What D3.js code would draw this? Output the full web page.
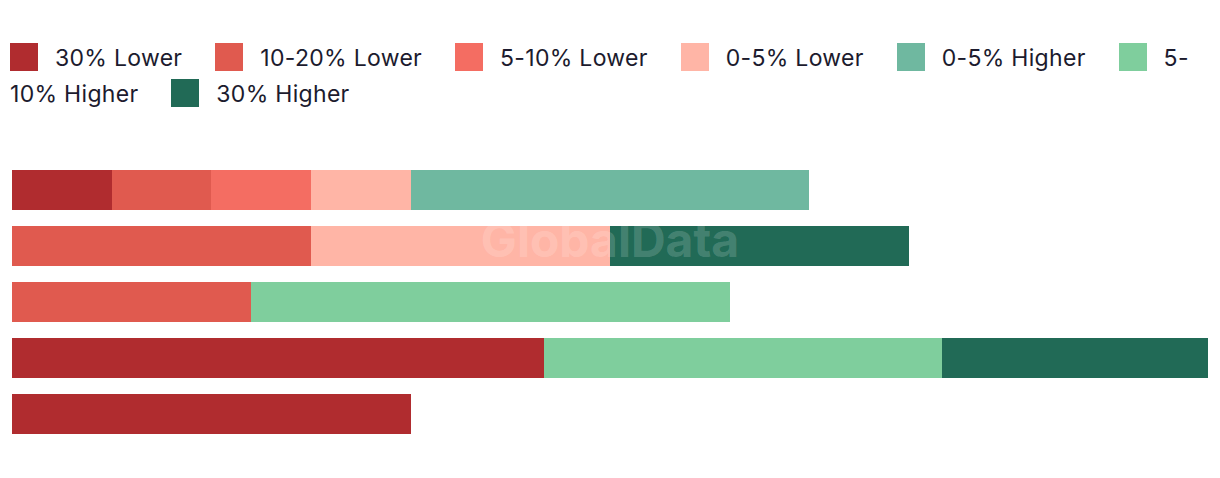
<!DOCTYPE html>
<html><head><meta charset="utf-8">
<script src="https://cdn.jsdelivr.net/npm/d3@7"></script>
<style>
html,body{margin:0;padding:0;background:#fff;}
body{width:1220px;height:478px;position:relative;overflow:hidden;font-family:Inter,"Noto Sans",sans-serif;}
#legend{position:absolute;left:10px;top:40px;width:1192px;font-size:23px;letter-spacing:0.3px;line-height:36px;color:#1c1b2e;}
#legend .sw{display:inline-block;width:28px;height:28px;vertical-align:-5px;margin-right:17px;}
#legend .lab.last{margin-right:33px;}
svg{position:absolute;left:0;top:0;}
</style></head><body>
<div id="legend"></div>
<svg id="chart" width="1220" height="478"></svg>
<script>
const categories = ["Row 1","Row 2","Row 3","Row 4","Row 5"];
const seriesNames = ["30% Lower","10-20% Lower","5-10% Lower","0-5% Lower","0-5% Higher","5-10% Higher","30% Higher"];
const colors = ["#b02c2f","#e05a4f","#f46d62","#ffb5a6","#6fb8a0","#7fce9d","#216a56"];
const lower30  = [10, 0, 0, 53.33, 40];
const lower10_20 = [10, 30, 24, 0, 0];
const lower5_10 = [10, 0, 0, 0, 0];
const lower0_5 = [10, 30, 0, 0, 0];
const higher0_5 = [40, 0, 0, 0, 0];
const higher5_10 = [0, 0, 48, 40, 0];
const higher30 = [0, 30, 0, 26.67, 0];
const seriesValues = [lower30, lower10_20, lower5_10, lower0_5, higher0_5, higher5_10, higher30];

const rows = categories.map((c,i)=>{const o={cat:c}; seriesNames.forEach((s,j)=>o[s]=seriesValues[j][i]); return o;});
const stack = d3.stack().keys(seriesNames)(rows);

const svg = d3.select("#chart");
const x = d3.scaleLinear().domain([0,120]).range([12,1208]);
const y = d3.scaleBand().domain(categories).range([162,442]).paddingInner(16/56).paddingOuter(8/56);

svg.append("g").selectAll("g").data(stack).join("g")
  .attr("fill",(d,i)=>colors[i])
  .selectAll("rect").data(d=>d.filter(p=>p[1]-p[0]>0)).join("rect")
  .attr("x",d=>x(d[0])).attr("width",d=>x(d[1])-x(d[0]))
  .attr("y",d=>y(d.data.cat)).attr("height",y.bandwidth())
  .attr("shape-rendering","crispEdges");

svg.append("text").attr("x",610).attr("y",257).attr("text-anchor","middle")
  .attr("font-family","Inter, 'Noto Sans', sans-serif").attr("font-weight",700)
  .attr("font-size",48).attr("fill","#ffffff").attr("fill-opacity",0.18)
  .text("GlobalData");

const lg = d3.select("#legend");
seriesNames.forEach((s,i)=>{
  lg.append("span").attr("class","sw").style("background",colors[i]);
  // split after hyphens so each wrapped piece is its own element (break opportunities unchanged)
  const pieces = s.match(/[^-]*-|[^-]+$/g);
  pieces.forEach((p,k)=>{
    lg.append("span").attr("class","lab"+(k===pieces.length-1?" last":"")).text(p);
  });
});
</script>
</body></html>
